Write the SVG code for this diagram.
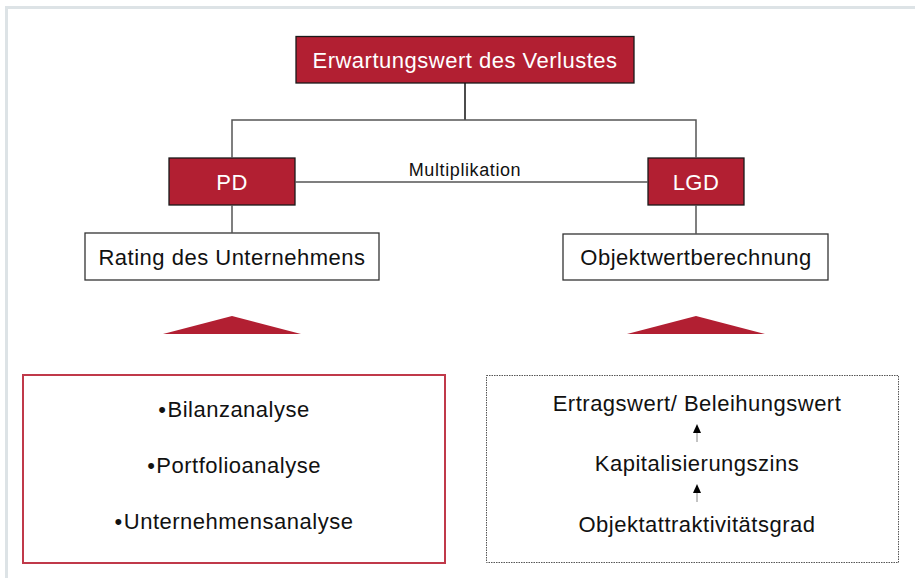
<svg xmlns="http://www.w3.org/2000/svg" width="915" height="578" viewBox="0 0 915 578">
<defs>
<style>
text{font-family:"Liberation Sans",Arial,sans-serif;fill:#111;}
.red{fill:#b21f32;stroke:#1a1a1a;stroke-width:1.3;}
.white{fill:#fff;stroke:#333;stroke-width:1.3;}
.wt{fill:#fff;font-size:22px;letter-spacing:0.5px;text-anchor:middle;}
.bt{font-size:22px;letter-spacing:0.5px;text-anchor:middle;}
.ln{stroke:#555;stroke-width:1.5;fill:none;}
.ar{stroke:#888;stroke-width:1;fill:none;}
.ah{fill:#000;}
</style>
</defs>
<rect x="0" y="0" width="915" height="578" fill="#fff"/>
<g id="frame">
<line x1="6" y1="7.5" x2="915" y2="7.5" stroke="#dde3e6" stroke-width="3"/>
<line x1="6.5" y1="6" x2="6.5" y2="578" stroke="#dde3e6" stroke-width="3"/>
</g>
<g id="n-top">
<rect class="red" x="296" y="36.5" width="338" height="46.5"/>
<text class="wt" x="465" y="68">Erwartungswert des Verlustes</text>
</g>
<g id="n-mult">
<text x="465" y="176" font-size="18" letter-spacing="0.6" text-anchor="middle">Multiplikation</text>
</g>
<g id="n-pd">
<rect class="red" x="169" y="158" width="126" height="47"/>
<text class="wt" x="232" y="190">PD</text>
</g>
<g id="n-lgd">
<rect class="red" x="648" y="158" width="96" height="47"/>
<text class="wt" x="696" y="190">LGD</text>
</g>
<g id="n-rating">
<rect class="white" x="85" y="233" width="294" height="47"/>
<text class="bt" x="232" y="265">Rating des Unternehmens</text>
</g>
<g id="n-objekt">
<rect class="white" x="563" y="234" width="265" height="46"/>
<text class="bt" x="696" y="265">Objektwertberechnung</text>
</g>
<g id="tri-left">
<polygon points="163,334 232,316 301,334" fill="#b21f32"/>
</g>
<g id="tri-right">
<polygon points="627,334 696,316 765,334" fill="#b21f32"/>
</g>
<g id="n-pd-box">
<rect x="23" y="375" width="422" height="188" fill="#fff" stroke="#c0394a" stroke-width="2"/>
<text class="bt" x="234" y="417">•<tspan dx="1">Bilanzanalyse</tspan></text>
<text class="bt" x="234" y="473">•<tspan dx="1">Portfolioanalyse</tspan></text>
<text class="bt" x="234" y="529">•<tspan dx="1">Unternehmensanalyse</tspan></text>
</g>
<g id="n-lgd-box">
<rect x="486.5" y="375.5" width="412" height="187" fill="#fff" stroke="#555" stroke-width="1" stroke-dasharray="1.5,1"/>
<text class="bt" x="697" y="411">Ertragswert/ Beleihungswert</text>
<text class="bt" x="697" y="471">Kapitalisierungszins</text>
<text class="bt" x="697" y="532">Objektattraktivitätsgrad</text>
</g>
<g id="connectors">
<line class="ln" x1="465" y1="83" x2="465" y2="120" style="stroke:#111"/>
<polyline class="ln" points="232,158 232,120 696,120 696,158"/>
<line class="ln" x1="295" y1="182" x2="648" y2="182"/>
<line class="ln" x1="232" y1="205" x2="232" y2="233"/>
<line class="ln" x1="696" y1="205" x2="696" y2="234"/>
<line class="ar" x1="697" y1="442" x2="697" y2="432"/>
<polygon class="ah" points="697,424 693,433 701,433"/>
<line class="ar" x1="697" y1="502" x2="697" y2="492"/>
<polygon class="ah" points="697,484 693,493 701,493"/>
</g>
</svg>
